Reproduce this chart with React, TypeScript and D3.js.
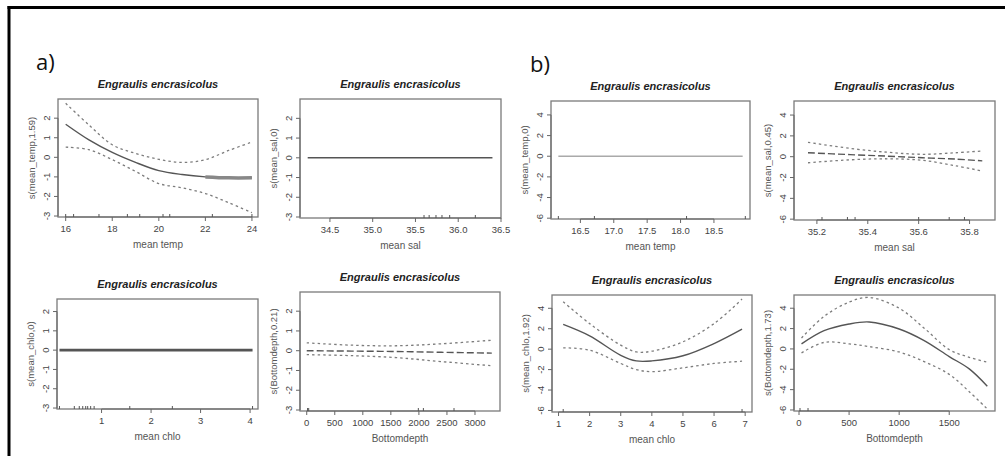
import React from 'react';
import * as d3 from 'd3';

// ---- data (GAM partial effects, Engraulis encrasicolus) ----

// a) top-left: mean temp
const a1X = [16, 17, 18, 19, 20, 21, 22, 23, 24];
const a1Fit = [1.69, 0.89, 0.25, -0.26, -0.68, -0.88, -1.0, -1.05, -1.05];
const a1Upper = [2.76, 1.65, 0.64, 0.2, -0.1, -0.26, -0.12, 0.35, 0.78];
const a1Lower = [0.52, 0.39, -0.12, -0.72, -1.34, -1.56, -1.85, -2.32, -2.83];
const a1Rug = [16, 16.34, 17.43, 18.65, 19.18, 20.18, 20.47, 22.3, 24];
const a1Ticks = [16, 18, 20, 22, 24];

// a) top-right: mean sal
const a2X = [34.24, 36.4];
const a2Fit = [0, 0];
const a2Rug = [35.6, 35.66, 35.74, 35.81, 35.9, 36.2];
const a2Ticks = [34.5, 35.0, 35.5, 36.0, 36.5];

// a) bottom-left: mean chlo
const a3X = [0.15, 4.05];
const a3Fit = [0, 0];
const a3Rug = [0.15, 0.45, 0.55, 0.62, 0.68, 0.72, 0.78, 0.85, 1.57, 2.43, 4.05];
const a3Ticks = [1, 2, 3, 4];

// a) bottom-right: Bottomdepth
const a4X = [0, 800, 1600, 2400, 3300];
const a4Fit = [0.0, -0.02, -0.04, -0.08, -0.12];
const a4Upper = [0.4, 0.28, 0.25, 0.35, 0.53];
const a4Lower = [-0.2, -0.25, -0.35, -0.55, -0.76];
const a4Rug = [15, 35, 1990, 2080, 2626];
const a4Ticks = [0, 500, 1000, 1500, 2000, 2500, 3000];

// b) top-left: mean temp
const b1X = [16.17, 18.93];
const b1Fit = [0, 0];
const b1Rug = [16.17, 16.71, 18.09, 18.97];
const b1Ticks = [16.5, 17.0, 17.5, 18.0, 18.5];

// b) top-right: mean sal
const b2X = [35.165, 35.33, 35.48, 35.615, 35.745, 35.85];
const b2Fit = [0.38, 0.2, 0.05, -0.1, -0.23, -0.4];
const b2Upper = [1.38, 0.8, 0.42, 0.23, 0.38, 0.55];
const b2Lower = [-0.58, -0.3, -0.2, -0.35, -0.87, -1.38];
const b2Rug = [35.22, 35.32, 35.35, 35.6, 35.72, 35.78];
const b2Ticks = [35.2, 35.4, 35.6, 35.8];

// b) bottom-left: mean chlo
const b3X = [1.15, 2, 3, 3.5, 4, 5, 6, 6.9];
const b3Fit = [2.42, 1.3, -0.6, -1.15, -1.15, -0.65, 0.55, 1.96];
const b3Upper = [4.64, 2.5, 0.39, -0.26, -0.2, 0.72, 2.5, 4.9];
const b3Lower = [0.13, -0.1, -1.4, -2.0, -2.2, -1.83, -1.4, -1.18];
const b3Rug = [1.15, 6.9];
const b3Ticks = [1, 2, 3, 4, 5, 6, 7];

// b) bottom-right: Bottomdepth
const b4X = [25, 250, 500, 700, 1000, 1250, 1500, 1700, 1880];
const b4Fit = [0.49, 1.79, 2.45, 2.65, 1.96, 0.82, -0.75, -1.96, -3.66];
const b4Upper = [1.08, 3.2, 4.6, 5.06, 4.0, 2.04, -0.07, -0.82, -1.3];
const b4Lower = [-0.39, 0.64, 0.5, 0.23, -0.3, -1.25, -2.5, -4.2, -5.9];
const b4Rug = [10, 90];
const b4Ticks = [0, 500, 1000, 1500];

const aYTicks = [-3, -2, -1, 0, 1, 2];
const bYTicks = [-6, -4, -2, 0, 2, 4];

const speciesTitle = 'Engraulis encrasicolus';

// ---- panel definitions ----
const panels = [
  { xs: a1X, fit: a1Fit, upper: a1Upper, lower: a1Lower, rug: a1Rug, xTicks: a1Ticks, yTicks: aYTicks,
    xDomain: [15.67, 24.26], yDomain: [-3.05, 2.98], fmt: 'd', xLabel: 'mean temp', yLabel: 's(mean_temp,1.59)',
    box: { x0: 58, x1: 258, y0: 99, y1: 217 }, thickFrom: 21.9 },
  { xs: a2X, fit: a2Fit, rug: a2Rug, xTicks: a2Ticks, yTicks: aYTicks,
    xDomain: [34.15, 36.5], yDomain: [-3.05, 2.98], fmt: '.1f', xLabel: 'mean sal', yLabel: 's(mean_sal,0)',
    box: { x0: 300, x1: 501, y0: 99, y1: 218 } },
  { xs: a3X, fit: a3Fit, rug: a3Rug, xTicks: a3Ticks, yTicks: aYTicks,
    xDomain: [0.1, 4.16], yDomain: [-3.05, 2.65], fmt: 'd', xLabel: 'mean chlo', yLabel: 's(mean_chlo,0)',
    box: { x0: 57, x1: 258, y0: 299, y1: 409 }, fitWidth: 2.6 },
  { xs: a4X, fit: a4Fit, upper: a4Upper, lower: a4Lower, rug: a4Rug, xTicks: a4Ticks, yTicks: aYTicks,
    xDomain: [-120, 3446], yDomain: [-3.05, 2.97], fmt: 'd', xLabel: 'Bottomdepth', yLabel: 's(Bottomdepth,0.21)',
    box: { x0: 300, x1: 500, y0: 292, y1: 411 }, fitDash: '7 3' },
  { xs: b1X, fit: b1Fit, rug: b1Rug, xTicks: b1Ticks, yTicks: bYTicks,
    xDomain: [16.06, 19.04], yDomain: [-6.08, 5.35], fmt: '.1f', xLabel: 'mean temp', yLabel: 's(mean_temp,0)',
    box: { x0: 551, x1: 750, y0: 101, y1: 219 }, fitColor: '#aaa' },
  { xs: b2X, fit: b2Fit, upper: b2Upper, lower: b2Lower, rug: b2Rug, xTicks: b2Ticks, yTicks: bYTicks,
    xDomain: [35.11, 35.9], yDomain: [-6.08, 5.35], fmt: '.1f', xLabel: 'mean sal', yLabel: 's(mean_sal,0.45)',
    box: { x0: 794, x1: 995, y0: 101, y1: 220 }, fitDash: '7 3' },
  { xs: b3X, fit: b3Fit, upper: b3Upper, lower: b3Lower, rug: b3Rug, xTicks: b3Ticks, yTicks: bYTicks,
    xDomain: [0.79, 7.22], yDomain: [-6.15, 5.3], fmt: 'd', xLabel: 'mean chlo', yLabel: 's(mean_chlo,1.92)',
    box: { x0: 552, x1: 752, y0: 295, y1: 412 } },
  { xs: b4X, fit: b4Fit, upper: b4Upper, lower: b4Lower, rug: b4Rug, xTicks: b4Ticks, yTicks: bYTicks,
    xDomain: [-50, 1957], yDomain: [-6.1, 5.3], fmt: 'd', xLabel: 'Bottomdepth', yLabel: 's(Bottomdepth,1.73)',
    box: { x0: 794, x1: 995, y0: 295, y1: 411 } },
];

const font = '"Liberation Sans", Arial, sans-serif';

function Panel({ p }: { p: any }) {
  const { box } = p;
  const x = d3.scaleLinear().domain(p.xDomain).range([box.x0, box.x1]);
  const y = d3.scaleLinear().domain(p.yDomain).range([box.y1, box.y0]);
  const line = (vals: number[], xs: number[]) =>
    d3.line<number>()
      .x((d, i) => x(xs[i]))
      .y((d) => y(d))
      .curve(d3.curveCatmullRom.alpha(0.5))(vals) || '';
  const fmt = d3.format(p.fmt);
  const cx = (box.x0 + box.x1) / 2;
  const cy = (box.y0 + box.y1) / 2;
  const tickLen = 4;

  let thick: string | null = null;
  if (p.thickFrom !== undefined) {
    const idx = p.xs.map((v: number, i: number) => i).filter((i: number) => p.xs[i] >= p.thickFrom);
    thick = line(idx.map((i: number) => p.fit[i]), idx.map((i: number) => p.xs[i]));
  }

  return (
    <g>
      <text x={cx} y={box.y0 - 11} textAnchor="middle" fontFamily={font} fontSize={11}
        fontWeight="bold" fontStyle="italic" fill="#222">{speciesTitle}</text>
      <rect x={box.x0} y={box.y0} width={box.x1 - box.x0} height={box.y1 - box.y0}
        fill="none" stroke="#7a7a7a" strokeWidth={1.3} />

      {/* x axis */}
      <line x1={x(p.xTicks[0])} x2={x(p.xTicks[p.xTicks.length - 1])} y1={box.y1} y2={box.y1}
        stroke="#666" strokeWidth={1} />
      {p.xTicks.map((t: number) => (
        <g key={'xt' + t}>
          <line x1={x(t)} x2={x(t)} y1={box.y1} y2={box.y1 + tickLen} stroke="#666" />
          <text x={x(t)} y={box.y1 + 15} textAnchor="middle" fontFamily={font} fontSize={9.5} fill="#444">{fmt(t)}</text>
        </g>
      ))}
      <text x={cx} y={box.y1 + 31} textAnchor="middle" fontFamily={font} fontSize={10} fill="#555">{p.xLabel}</text>

      {/* y axis */}
      <line x1={box.x0} x2={box.x0} y1={y(p.yTicks[0])} y2={y(p.yTicks[p.yTicks.length - 1])}
        stroke="#666" strokeWidth={1} />
      {p.yTicks.map((t: number) => (
        <g key={'yt' + t}>
          <line x1={box.x0} x2={box.x0 - tickLen} y1={y(t)} y2={y(t)} stroke="#666" />
          <text transform={`translate(${box.x0 - 8},${y(t)}) rotate(-90)`} textAnchor="middle"
            fontFamily={font} fontSize={9.5} fill="#444">{t}</text>
        </g>
      ))}
      <text transform={`translate(${box.x0 - 23},${cy}) rotate(-90)`} textAnchor="middle"
        fontFamily={font} fontSize={9.5} fill="#555">{p.yLabel}</text>

      {/* rug */}
      {p.rug.map((r: number, i: number) => (
        <line key={'r' + i} x1={x(r)} x2={x(r)} y1={box.y1} y2={box.y1 - 3} stroke="#555" strokeWidth={1} />
      ))}

      {/* confidence bands */}
      {p.upper && (
        <path d={line(p.upper, p.xs)} fill="none" stroke="#7d7d7d" strokeWidth={1.3} strokeDasharray="2.5 3" />
      )}
      {p.lower && (
        <path d={line(p.lower, p.xs)} fill="none" stroke="#7d7d7d" strokeWidth={1.3} strokeDasharray="2.5 3" />
      )}
      {/* fitted smooth */}
      <path d={line(p.fit, p.xs)} fill="none" stroke={p.fitColor || '#555'} strokeWidth={p.fitWidth || 1.4}
        strokeDasharray={p.fitDash || undefined} />
      {thick && <path d={thick} fill="none" stroke="#888" strokeWidth={3.5} />}
    </g>
  );
}

export default function App() {
  return (
    <div style={{ position: 'absolute', left: 0, top: 0 }}>
      <svg width={1005} height={456} style={{ display: 'block', background: '#fff' }}>
        <rect x={0} y={0} width={1005} height={456} fill="#fff" />
        {/* frame (top and left edges of the cropped figure) */}
        <line x1={7.5} x2={1005} y1={7.5} y2={7.5} stroke="#000" strokeWidth={3} />
        <line x1={9} x2={9} y1={6} y2={456} stroke="#000" strokeWidth={3} />
        <text x={36} y={70} fontFamily='"Open Sans", "Liberation Sans", sans-serif' fontSize={22} fill="#111">a)</text>
        <text x={530} y={72} fontFamily='"Open Sans", "Liberation Sans", sans-serif' fontSize={22} fill="#111">b)</text>
        {panels.map((p, i) => <Panel key={i} p={p} />)}
      </svg>
    </div>
  );
}
